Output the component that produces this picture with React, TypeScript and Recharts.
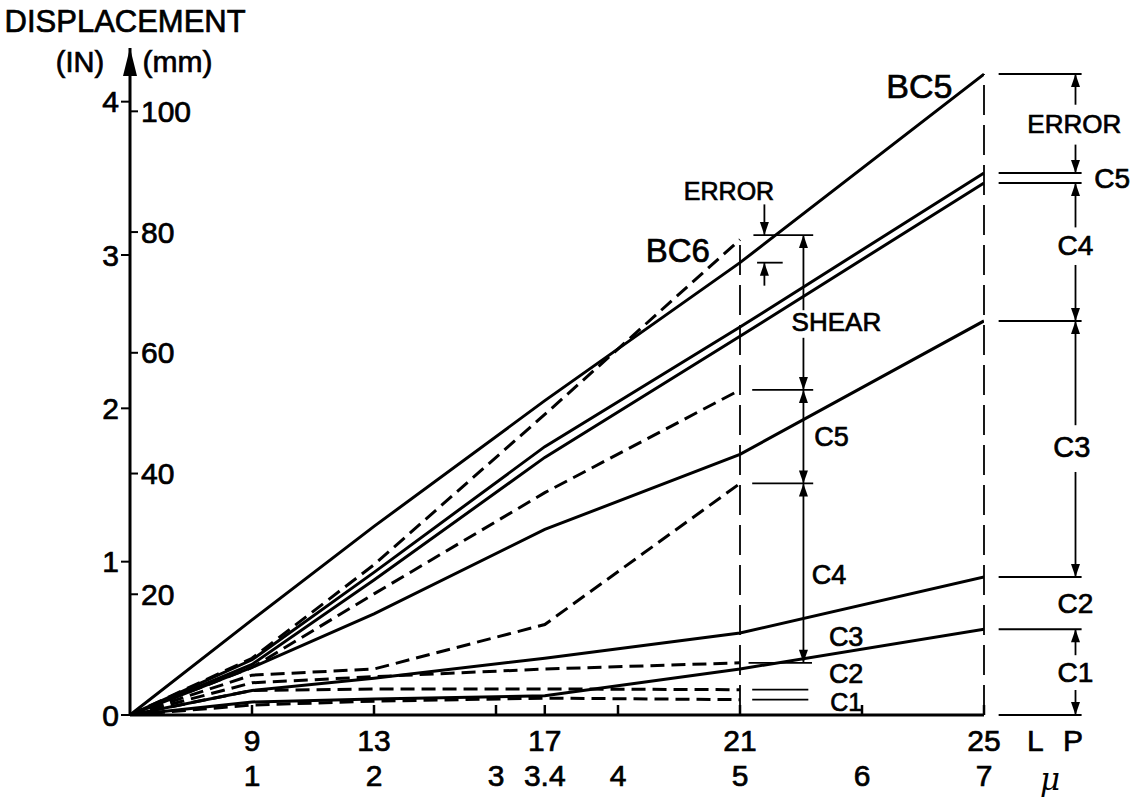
import React from 'react';
import { ComposedChart, Line, XAxis, YAxis, ReferenceLine, ReferenceDot } from 'recharts';

// ---- data (x = ductility mu, y = displacement in inches) ----
const muPoints = [0, 1, 2, 3.4, 5, 7];
const bc5Total = [0, 0.62, 1.23, 2.05, 2.95, 4.18];
const bc5C5 = [0, 0.36, 0.93, 1.75, 2.53, 3.535];
const bc5C4 = [0, 0.33, 0.88, 1.68, 2.47, 3.47];
const bc5C3 = [0, 0.31, 0.66, 1.21, 1.7, 2.57];
const bc5C2 = [0, 0.16, 0.24, 0.37, 0.535, 0.9];
const bc5C1 = [0, 0.085, 0.105, 0.125, 0.3, 0.56];
const bc6Total = [0, 0.37, 0.98, 1.96, 3.1, null];
const bc6C5 = [0, 0.31, 0.79, 1.45, 2.12, null];
const bc6C4 = [0, 0.26, 0.3, 0.59, 1.51, null];
const bc6C3 = [0, 0.21, 0.25, 0.3, 0.34, null];
const bc6C2 = [0, 0.16, 0.17, 0.17, 0.165, null];
const bc6C1 = [0, 0.065, 0.09, 0.11, 0.1, null];

// ---- ticks ----
const muTicks = [1, 2, 3, 3.4, 4, 5, 6, 7];
const muTickLabels = ['1', '2', '3', '3.4', '4', '5', '6', '7'];
const lpTicks = [1, 2, 3.4, 5, 7];
const lpLabels = ['9', '13', '17', '21', '25'];
const inTicks = [0, 1, 2, 3, 4];
const inLabels = ['0', '1', '2', '3', '4'];
const mmTicks = [20, 40, 60, 80, 100];
const mmLabels = ['20', '40', '60', '80', '100'];
const MM_PER_IN = 25.4;
const yTicks = [...inTicks, ...mmTicks.map((m) => m / MM_PER_IN)];

const bc6Sum = 3.13;

const data = muPoints.map((mu, i) => ({
  mu,
  bc5Total: bc5Total[i],
  bc5C5: bc5C5[i],
  bc5C4: bc5C4[i],
  bc5C3: bc5C3[i],
  bc5C2: bc5C2[i],
  bc5C1: bc5C1[i],
  bc6Total: bc6Total[i],
  bc6C5: bc6C5[i],
  bc6C4: bc6C4[i],
  bc6C3: bc6C3[i],
  bc6C2: bc6C2[i],
  bc6C1: bc6C1[i],
}));

// ---- annotations (data coordinates) ----
const texts = [
  { t: 'DISPLACEMENT', mu: -0.04, d: 4.52, s: 31 },
  { t: '(IN)', mu: -0.41, d: 4.26, s: 29 },
  { t: '(mm)', mu: 0.39, d: 4.26, s: 30 },
  { t: 'BC5', mu: 6.47, d: 4.1, s: 34 },
  { t: 'BC6', mu: 4.49, d: 3.03, s: 33 },
  { t: 'ERROR', mu: 4.91, d: 3.42, s: 25 },
  { t: 'SHEAR', mu: 5.79, d: 2.56, s: 26 },
  { t: 'C5', mu: 5.75, d: 1.81, s: 27 },
  { t: 'C4', mu: 5.73, d: 0.91, s: 27 },
  { t: 'C3', mu: 5.87, d: 0.51, s: 27 },
  { t: 'C2', mu: 5.87, d: 0.27, s: 27 },
  { t: 'C1', mu: 5.87, d: 0.085, s: 25 },
  { t: 'ERROR', mu: 7.74, d: 3.855, s: 26 },
  { t: 'C5', mu: 8.05, d: 3.5, s: 28 },
  { t: 'C4', mu: 7.75, d: 3.065, s: 28 },
  { t: 'C3', mu: 7.72, d: 1.75, s: 29 },
  { t: 'C2', mu: 7.75, d: 0.73, s: 28 },
  { t: 'C1', mu: 7.75, d: 0.28, s: 28 },
];

const rightExt = [bc5Total[5], bc5C5[5], bc5C4[5], bc5C3[5], bc5C2[5], bc5C1[5], 0];
const midExt = [
  { d: bc6Sum, a: 5.11, b: 5.6 },
  { d: bc5Total[4], a: 5.14, b: 5.35 },
  { d: bc6C5[4] as number, a: 5.1, b: 5.6 },
  { d: bc6C4[4] as number, a: 5.1, b: 5.6 },
  { d: bc6C3[4] as number, a: 5.07, b: 5.59 },
  { d: bc6C2[4] as number, a: 5.1, b: 5.56 },
  { d: bc6C1[4] as number, a: 5.1, b: 5.56 },
];

// arrows: [mu, from, to, heads]
const arrows: [number, number, number, string][] = [
  [5.2, 3.33, bc6Sum, 'end'],
  [5.2, 2.8, bc5Total[4], 'end'],
  [5.52, 2.64, bc6Sum, 'end'],
  [5.52, 2.46, bc6C5[4] as number, 'end'],
  [5.52, bc6C5[4] as number, bc6C4[4] as number, 'both'],
  [5.52, bc6C4[4] as number, bc6C3[4] as number, 'both'],
  [7.75, 3.98, bc5Total[5], 'end'],
  [7.75, 3.72, bc5C5[5], 'end'],
  [7.75, 3.18, bc5C4[5], 'end'],
  [7.75, 2.935, bc5C3[5], 'end'],
  [7.75, 1.89, bc5C3[5], 'end'],
  [7.75, 1.585, bc5C2[5], 'end'],
  [7.75, 0.39, bc5C1[5], 'end'],
  [7.75, 0.163, 0, 'end'],
];

const FONT = '"Liberation Sans", Arial, sans-serif';
const TXT = { fontFamily: FONT, fill: '#000', stroke: '#000', strokeWidth: 0.7 };

const head = (tx: number, ty: number, fx: number, fy: number) => {
  const dx = tx - fx;
  const dy = ty - fy;
  const len = Math.sqrt(dx * dx + dy * dy) || 1;
  const ux = dx / len;
  const uy = dy / len;
  const L = 13;
  const W = 4.5;
  const bx = tx - ux * L;
  const by = ty - uy * L;
  return (
    <polygon
      points={`${tx},${ty} ${bx - uy * W},${by + ux * W} ${bx + uy * W},${by - ux * W}`}
      fill="#000"
    />
  );
};

const arrowShape = (heads: string) => (p: any) => {
  const { x1, y1, x2, y2 } = p;
  return (
    <g>
      <line x1={x1} y1={y1} x2={x2} y2={y2} stroke="#000" strokeWidth={1.8} />
      {(heads === 'end' || heads === 'both') && head(x2, y2, x1, y1)}
      {(heads === 'start' || heads === 'both') && head(x1, y1, x2, y2)}
    </g>
  );
};

const textShape = (t: string, s: number) => (p: any) => (
  <text x={p.cx} y={p.cy} textAnchor="middle" dominantBaseline="central" fontSize={s} {...TXT}>
    {t}
  </text>
);

const arrowUpShape = (p: any) => (
  <polygon
    points={`${p.cx},${p.cy} ${p.cx - 7},${p.cy + 28} ${p.cx + 7},${p.cy + 28}`}
    fill="#000"
  />
);

const XTick = (props: any) => {
  const { x, y, payload } = props;
  const v = payload.value;
  const i = muTicks.findIndex((t) => Math.abs(t - v) < 1e-6);
  const j = lpTicks.findIndex((t) => Math.abs(t - v) < 1e-6);
  return (
    <g>
      <line x1={x} y1={y} x2={x} y2={y - 10} stroke="#000" strokeWidth={2.5} />
      {j >= 0 && (
        <text x={x} y={y + 25} textAnchor="middle" dominantBaseline="central" fontSize={30} {...TXT}>
          {lpLabels[j]}
        </text>
      )}
      <text x={x} y={y + 60} textAnchor="middle" dominantBaseline="central" fontSize={30} {...TXT}>
        {muTickLabels[i]}
      </text>
      {v === 7 && (
        <g>
          <text x={x + 74} y={y + 25} textAnchor="middle" dominantBaseline="central" fontSize={30} letterSpacing={6} {...TXT}>
            L P
          </text>
          <text x={x + 66} y={y + 64} textAnchor="middle" dominantBaseline="central" fontSize={31} fontStyle="italic" fontFamily='"DejaVu Serif", serif' fill="#000">
            μ
          </text>
        </g>
      )}
    </g>
  );
};

const YTick = (props: any) => {
  const { x, y, payload } = props;
  const v = payload.value;
  const k = inTicks.findIndex((t) => Math.abs(t - v) < 1e-6);
  if (k >= 0) {
    return (
      <g>
        <line x1={x - 9} y1={y} x2={x} y2={y} stroke="#000" strokeWidth={2} />
        <text x={x - 11} y={y} textAnchor="end" dominantBaseline="central" fontSize={30} {...TXT}>
          {inLabels[k]}
        </text>
      </g>
    );
  }
  const m = mmTicks.findIndex((t) => Math.abs(t / MM_PER_IN - v) < 1e-6);
  return (
    <g>
      <line x1={x} y1={y} x2={x + 8} y2={y} stroke="#000" strokeWidth={2} />
      <text x={x + 11} y={y} textAnchor="start" dominantBaseline="central" fontSize={30} {...TXT}>
        {mmLabels[m]}
      </text>
    </g>
  );
};

const solidKeys = ['bc5Total', 'bc5C5', 'bc5C4', 'bc5C3', 'bc5C2', 'bc5C1'];
const dashKeys = ['bc6Total', 'bc6C5', 'bc6C4', 'bc6C3', 'bc6C2', 'bc6C1'];

export default function App() {
  return (
    <div style={{ position: 'absolute', left: 0, top: 0, width: 1137, height: 800, background: '#fff' }}>
      <ComposedChart width={1137} height={800} data={data} margin={{ top: 48, right: 153, bottom: 0, left: 0 }}>
        <XAxis
          dataKey="mu"
          type="number"
          domain={[0, 7]}
          ticks={muTicks}
          interval={0}
          height={85}
          allowDataOverflow
          axisLine={{ stroke: '#000', strokeWidth: 3 }}
          tickLine={false}
          tickSize={0}
          tickMargin={0}
          tick={XTick}
        />
        <YAxis
          type="number"
          domain={[0, 4.35]}
          ticks={yTicks}
          interval={0}
          width={130}
          allowDataOverflow
          axisLine={{ stroke: '#000', strokeWidth: 3 }}
          tickLine={false}
          tickSize={0}
          tickMargin={0}
          tick={YTick}
        />
        {/* vertical dashed guides */}
        <ReferenceLine
          segment={[{ x: 5, y: 0 }, { x: 5, y: bc6Total[4] as number }]}
          stroke="#000"
          strokeWidth={1.8}
          strokeDasharray="30 10"
          ifOverflow="visible"
        />
        <ReferenceLine
          segment={[{ x: 7, y: 0 }, { x: 7, y: bc5Total[5] }]}
          stroke="#000"
          strokeWidth={1.8}
          strokeDasharray="30 10"
          ifOverflow="visible"
        />
        {solidKeys.map((k) => (
          <Line key={k} dataKey={k} type="linear" stroke="#000" strokeWidth={3} dot={false} isAnimationActive={false} />
        ))}
        {dashKeys.map((k) => (
          <Line key={k} dataKey={k} type="linear" stroke="#000" strokeWidth={3} strokeDasharray="14 7" dot={false} isAnimationActive={false} />
        ))}
        {rightExt.map((d, i) => (
          <ReferenceLine
            key={'re' + i}
            segment={[{ x: 7.12, y: d }, { x: 7.8, y: d }]}
            stroke="#000"
            strokeWidth={2}
            ifOverflow="visible"
          />
        ))}
        {midExt.map((e, i) => (
          <ReferenceLine
            key={'me' + i}
            segment={[{ x: e.a, y: e.d }, { x: e.b, y: e.d }]}
            stroke="#000"
            strokeWidth={1.8}
            ifOverflow="visible"
          />
        ))}
        {arrows.map((a, i) => (
          <ReferenceLine
            key={'ar' + i}
            segment={[{ x: a[0], y: a[1] }, { x: a[0], y: a[2] }]}
            ifOverflow="visible"
            shape={arrowShape(a[3])}
          />
        ))}
        <ReferenceDot x={0} y={4.35} r={0} ifOverflow="visible" shape={arrowUpShape} />
        {texts.map((t, i) => (
          <ReferenceDot key={'tx' + i} x={t.mu} y={t.d} r={0} ifOverflow="visible" shape={textShape(t.t, t.s)} />
        ))}
      </ComposedChart>
    </div>
  );
}
